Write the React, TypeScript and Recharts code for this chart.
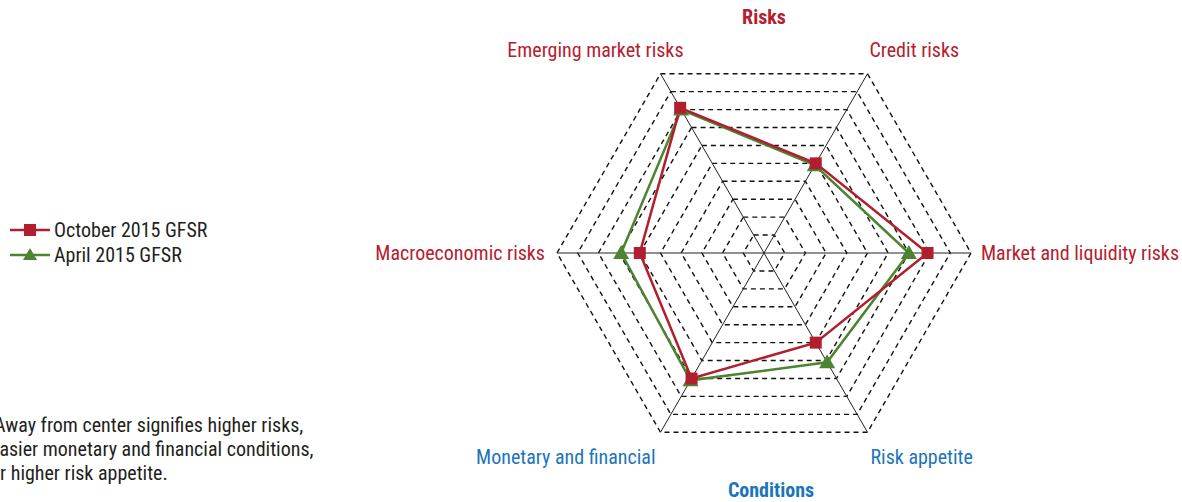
import {
  Legend,
  PolarAngleAxis,
  PolarGrid,
  PolarRadiusAxis,
  Radar,
  RadarChart,
} from 'recharts'

const categories = [
  'Emerging market risks',
  'Credit risks',
  'Market and liquidity risks',
  'Risk appetite',
  'Monetary and financial',
  'Macroeconomic risks',
]
const october2015 = [8.1, 5.0, 7.9, 5.0, 7.0, 6.0]
const april2015 = [8.0, 4.9, 7.0, 6.1, 7.1, 6.9]
const ringCount = 10
const noteLines = [
  'Away from center signifies higher risks,',
  'easier monetary and financial conditions,',
  'or higher risk appetite.',
]

const RED = '#b11f2e'
const GREEN = '#4c8432'
const LABEL_RED = '#b5202e'
const LABEL_BLUE = '#1b75bb'
const FONT = "'Liberation Sans Narrow', 'Arial Narrow', 'Roboto Condensed', sans-serif"

const chartData = categories.map((name, i) => ({
  name,
  october: october2015[i],
  april: april2015[i],
}))

// where each spoke label sits relative to its tick point
const labelPlacement = [
  { anchor: 'end', dx: 27, dy: -17, color: LABEL_RED },
  { anchor: 'start', dx: -2, dy: -17, color: LABEL_RED },
  { anchor: 'start', dx: 2, dy: 0, color: LABEL_RED },
  { anchor: 'start', dx: -1, dy: 18, color: LABEL_BLUE },
  { anchor: 'end', dx: -1, dy: 18, color: LABEL_BLUE },
  { anchor: 'end', dx: -4, dy: 0, color: LABEL_RED },
]

function SpokeLabel(props: any) {
  const { x, y, payload, index } = props
  const p = labelPlacement[index ?? payload?.index ?? 0]
  return (
    <text
      x={x + p.dx}
      y={y + p.dy}
      dy="0.35em"
      textAnchor={p.anchor}
      fill={p.color}
      fontSize={20}
      fontFamily={FONT}
    >
      {payload.value}
    </text>
  )
}

function SquareDot(props: any) {
  const { cx, cy, index } = props
  return <rect key={`sq-${index}`} x={cx - 6} y={cy - 6} width={12} height={12} fill={RED} />
}

function TriangleDot(props: any) {
  const { cx, cy, index } = props
  return (
    <polygon
      key={`tr-${index}`}
      points={`${cx},${cy - 8} ${cx + 8},${cy + 6} ${cx - 8},${cy + 6}`}
      fill={GREEN}
    />
  )
}

function LegendBox() {
  const items = [
    { label: 'October 2015 GFSR', color: RED, shape: 'square' },
    { label: 'April 2015 GFSR', color: GREEN, shape: 'triangle' },
  ]
  return (
    <div style={{ fontFamily: FONT, fontSize: 20, color: '#231f20' }}>
      {items.map((it) => (
        <div key={it.label} style={{ display: 'flex', alignItems: 'center', height: 25 }}>
          <svg width={44} height={20} style={{ marginRight: 2 }}>
            <line x1={2} y1={10} x2={42} y2={10} stroke={it.color} strokeWidth={2.5} />
            {it.shape === 'square' ? (
              <rect x={16} y={4} width={12} height={12} fill={it.color} />
            ) : (
              <polygon points="22,3 29,15 15,15" fill={it.color} />
            )}
          </svg>
          <span>{it.label}</span>
        </div>
      ))}
    </div>
  )
}

export default function App() {
  return (
    <div
      style={{
        position: 'absolute',
        left: 0,
        top: 0,
        width: 1182,
        height: 502,
        overflow: 'hidden',
        background: '#fff',
      }}
    >
      <RadarChart
        width={1182}
        height={502}
        data={chartData}
        cx={764}
        cy={253}
        outerRadius={207}
        startAngle={120}
        endAngle={-240}
        margin={{ top: 0, right: 0, bottom: 0, left: 0 }}
      >
        <PolarGrid
          gridType="polygon"
          radialLines={false}
          stroke="#111"
          strokeWidth={1.4}
          strokeDasharray="5 4"
        />
        <PolarGrid gridType="polygon" polarRadius={[0]} stroke="#222" strokeWidth={1} />
        <PolarRadiusAxis
          domain={[0, ringCount]}
          tickCount={ringCount + 1}
          tick={false}
          axisLine={false}
        />
        <PolarAngleAxis dataKey="name" tick={<SpokeLabel />} tickLine={false} axisLine={false} />
        <Radar
          name="April 2015 GFSR"
          dataKey="april"
          stroke={GREEN}
          strokeWidth={2.5}
          fill="none"
          fillOpacity={0}
          dot={<TriangleDot />}
          isAnimationActive={false}
        />
        <Radar
          name="October 2015 GFSR"
          dataKey="october"
          stroke={RED}
          strokeWidth={2.5}
          fill="none"
          fillOpacity={0}
          dot={<SquareDot />}
          isAnimationActive={false}
        />
        <Legend
          content={<LegendBox />}
          wrapperStyle={{ position: 'absolute', left: 8, top: 217, width: 280, bottom: 'auto' }}
        />
      </RadarChart>

      <div
        style={{
          position: 'absolute',
          left: 664,
          width: 200,
          top: 5,
          textAlign: 'center',
          fontFamily: FONT,
          fontWeight: 'bold',
          fontSize: 20,
          color: LABEL_RED,
        }}
      >
        Risks
      </div>
      <div
        style={{
          position: 'absolute',
          left: 671,
          width: 200,
          top: 478,
          textAlign: 'center',
          fontFamily: FONT,
          fontWeight: 'bold',
          fontSize: 20,
          color: LABEL_BLUE,
        }}
      >
        Conditions
      </div>
      <div
        style={{
          position: 'absolute',
          left: 0,
          top: 413,
          fontFamily: FONT,
          fontSize: 20,
          lineHeight: '24px',
          color: '#231f20',
        }}
      >
        {noteLines.map((line, i) => (
          <div key={i} style={{ marginLeft: [-6, -10, -10][i], whiteSpace: 'nowrap' }}>
            {line}
          </div>
        ))}
      </div>
    </div>
  )
}
